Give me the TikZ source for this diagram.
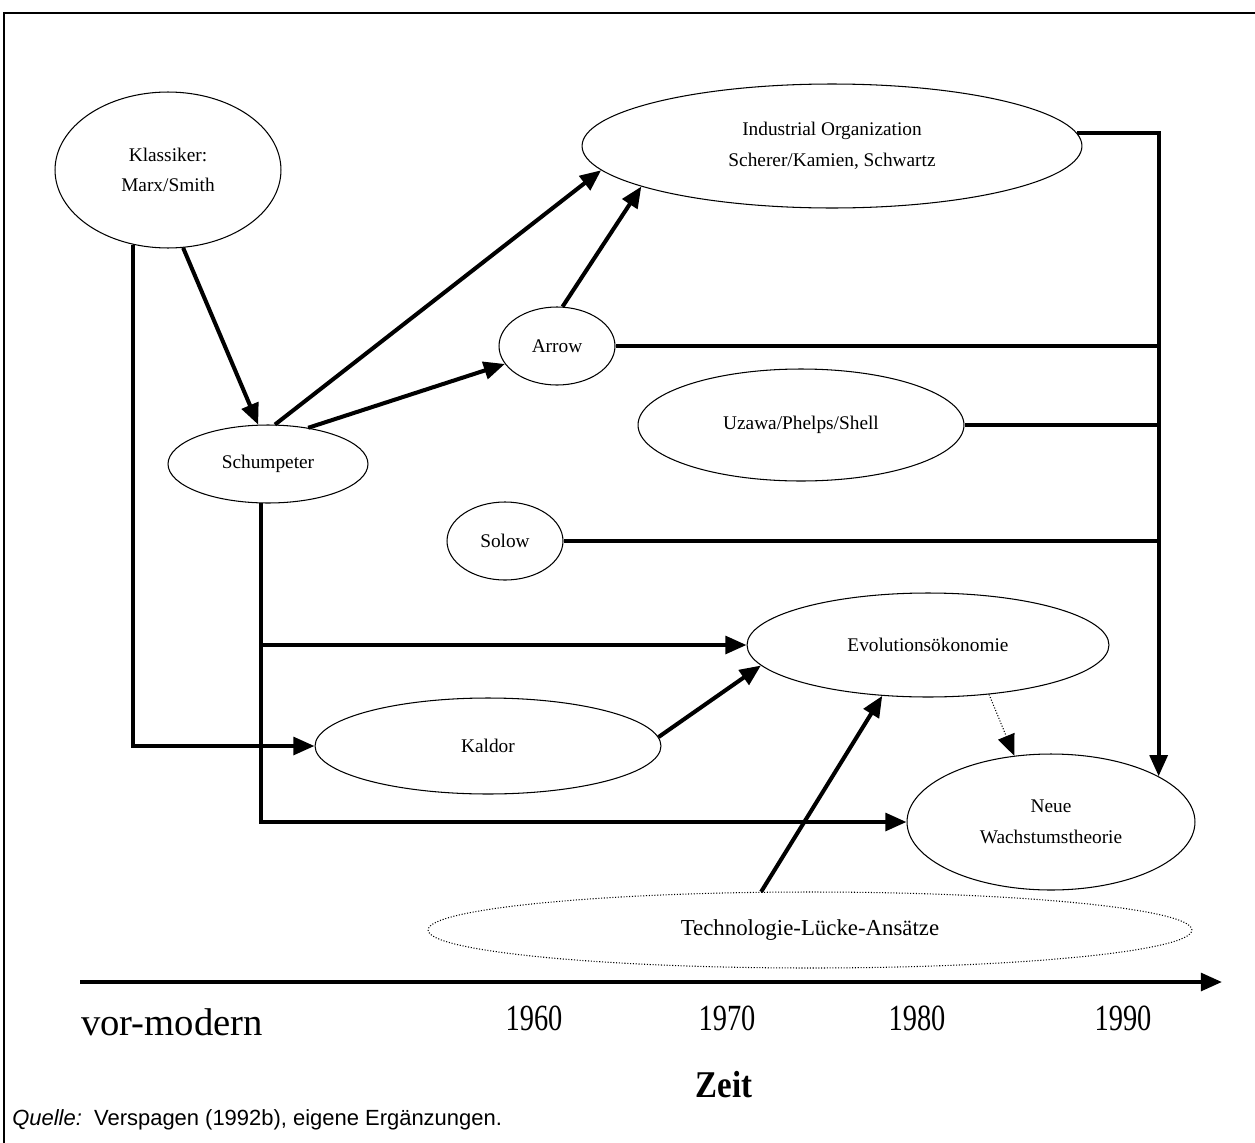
\documentclass[tikz,border=0pt]{standalone}
\usepackage{fontspec}
\setmainfont{Liberation Serif}
\setsansfont{Liberation Sans}
\usepackage{graphicx}
\usetikzlibrary{shapes.geometric, arrows.meta}
\newcommand{\yearlabel}[1]{\scalebox{0.77}[1]{#1}}

\begin{document}
\begin{tikzpicture}[
        x=0.02cm, y=-0.02cm,
        school/.style={draw, ellipse, line width=0.6pt, inner sep=0pt, align=center, font=\fontsize{11}{17.5}\selectfont},
        arrow/.style={-{Triangle[length=12pt, width=10pt]}, line width=2.3pt},
        feed/.style={line width=2.3pt},
        hint/.style={-{Triangle[length=12pt, width=10pt]}, densely dotted, line width=0.6pt},
        year/.style={font=\fontsize{21}{24}\selectfont}
    ]
        \useasboundingbox (0,0) rectangle (1255,1143);

        % Frame
        \draw[line width=0.8pt] (4,1143) -- (4,13) -- (1255,13);

        % Schools
        \node[school, minimum width=4.52cm, minimum height=3.12cm] (klass) at (168,170) {Klassiker:\\Marx/Smith};
        \node[school, minimum width=4cm, minimum height=1.56cm] (schum) at (268,464) {Schumpeter};
        \node[school, minimum width=10cm, minimum height=2.48cm] (io) at (832,146) {Industrial Organization\\Scherer/Kamien, Schwartz};
        \node[school, minimum width=2.32cm, minimum height=1.56cm] (arr) at (557,346) {Arrow};
        \node[school, minimum width=6.52cm, minimum height=2.24cm] (uzawa) at (801,425) {Uzawa/Phelps/Shell};
        \node[school, minimum width=2.32cm, minimum height=1.56cm] (solow) at (505,541) {Solow};
        \node[school, minimum width=7.24cm, minimum height=2.08cm] (evo) at (928,645) {Evolutionsökonomie};
        \node[school, minimum width=6.92cm, minimum height=1.92cm] (kaldor) at (488,746) {Kaldor};
        \node[school, minimum width=5.76cm, minimum height=2.72cm] (neue) at (1051,822) {Neue\\Wachstumstheorie};
        \node[school, densely dotted, minimum width=15.28cm, minimum height=1.52cm, font=\fontsize{13}{15}\selectfont] (tech) at (810,930) {Technologie-Lücke-Ansätze};

        % Connectors
        \draw[arrow] (klass.281) -- (schum.104);
        \draw[arrow] (klass.245) |- (kaldor.west);
        \draw[arrow] (schum.80) -- (io.186);
        \draw[arrow] (schum.42) -- (arr.199);
        \draw[arrow] (arr.82) -- (io.192);
        \draw[arrow] (io.3) -| (neue.23);
        \draw[feed] (arr.east) -- (arr.east -| neue.23);
        \draw[feed] (uzawa.east) -- (uzawa.east -| neue.23);
        \draw[feed] (solow.east) -- (solow.east -| neue.23);
        \draw[arrow] (schum.260) |- (neue.west);
        \draw[arrow] (schum.260 |- evo.west) -- (evo.west);
        \draw[arrow] (kaldor.3.5) -- (evo.187);
        \draw[arrow] (tech.142) -- (evo.228);
        \draw[hint] (evo.321) -- (neue.119);

        % Time axis
        \coordinate (tstart) at (80,982);
        \coordinate (tend) at (1222,982);
        \draw[arrow] (tstart) -- (tend);
        \node[font=\fontsize{22}{26}\selectfont] (vormodern) at (172,1022) {vor-modern};
        \node[year] (y1960) at (534,1018) {\yearlabel{1960}};
        \node[year] (y1970) at (727,1018) {\yearlabel{1970}};
        \node[year] (y1980) at (917,1018) {\yearlabel{1980}};
        \node[year] (y1990) at (1123,1018) {\yearlabel{1990}};
        \node[font=\bfseries\fontsize{21.5}{24}\selectfont] (zeit) at (724,1085) {\scalebox{0.87}[1]{Zeit}};

        % Source
        \node[anchor=west, inner sep=0pt, font=\sffamily\fontsize{12.5}{14}\selectfont] (quelle) at (12,1120) {\textit{Quelle:}\ \ Verspagen (1992b), eigene Ergänzungen.};
    \end{tikzpicture}
\end{document}
